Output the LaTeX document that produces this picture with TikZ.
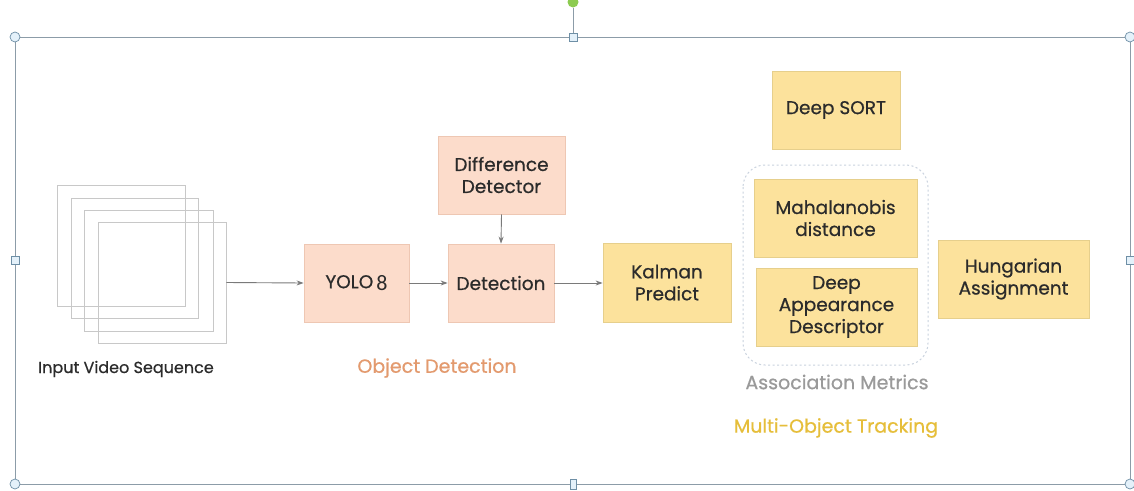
\documentclass[tikz,border=0pt]{standalone}
\usepackage{fontspec}
\setmainfont{Poppins}
\newfontfamily\medfont{Poppins}[FakeBold=0.6]
\newfontfamily\eightfont{Carlito}
\usetikzlibrary{arrows.meta}
\definecolor{peach}{HTML}{FCDCCB}
\definecolor{peachline}{HTML}{EEC7B3}
\definecolor{sand}{HTML}{FCE29C}
\definecolor{sandline}{HTML}{E6CF8C}
\definecolor{txt}{HTML}{2B2B2B}
\definecolor{arrowgray}{HTML}{7A7A7A}
\definecolor{odcol}{HTML}{E39A6E}
\definecolor{amcol}{HTML}{9A9A9A}
\definecolor{motcol}{HTML}{E6BE3A}
\definecolor{selline}{HTML}{8C9CA8}
\definecolor{handlefill}{HTML}{E4F1FA}
\definecolor{handleline}{HTML}{6E8FA6}
\definecolor{greenhandle}{HTML}{8CCB50}
\definecolor{dashcol}{HTML}{C9D2DE}
\definecolor{framecol}{HTML}{C8C8C8}
\tikzset{
  box/.style={draw, line width=0.8pt, align=center, text=txt, inner sep=2pt,
    font=\medfont\fontsize{18.5}{22}\selectfont},
  pbox/.style={box, fill=peach, draw=peachline},
  ybox/.style={box, fill=sand, draw=sandline},
  flow/.style={draw=arrowgray, line width=0.9pt, -{Stealth[length=7pt,width=5pt]}},
  vframe/.style={draw=framecol, line width=0.9pt},
  lbl/.style={font=\medfont\fontsize{19}{22}\selectfont},
  circhandle/.style={circle, draw=handleline, fill=handlefill, line width=0.7pt, minimum size=10pt, inner sep=0pt},
  sqhandle/.style={rectangle, draw=handleline, fill=handlefill, line width=0.7pt, minimum size=8pt, inner sep=0pt},
}
\begin{document}
\begin{tikzpicture}[x=1pt,y=-1pt]
\useasboundingbox (0,0) rectangle (1134,490);
\fill[white] (0,0) rectangle (1134,490);

% selection frame
\draw[selline, line width=1pt] (15,37) rectangle (1130,484);
\node[circle, fill=greenhandle, minimum size=11pt, inner sep=0pt] (rot) at (573,2) {};
\node[sqhandle] (htop) at (573,37) {};
\draw[selline, line width=1pt] (rot) -- (htop);
\node[circhandle] (c1) at (15,37) {};
\node[circhandle] (c2) at (1130,37) {};
\node[circhandle] (c3) at (15,484) {};
\node[circhandle] (c4) at (1130,484) {};
\node[sqhandle] (hl) at (15,260) {};
\node[sqhandle] (hr) at (1130,260) {};
\node[sqhandle, minimum width=6pt, minimum height=10pt] (hb) at (573,484) {};

% video frames
\node[vframe, minimum width=128pt, minimum height=121pt] (f1) at (121,245.5) {};
\node[vframe, minimum width=127pt, minimum height=120pt] (f2) at (134.5,258) {};
\node[vframe, minimum width=129pt, minimum height=121pt] (f3) at (148.5,270.5) {};
\node[vframe, minimum width=128pt, minimum height=121pt] (f4) at (162,282.5) {};
\node[lbl, text=txt, font=\medfont\fontsize{16}{20}\selectfont] (ivs) at (126,369) {Input Video Sequence};

% object detection
\node[pbox, minimum width=105pt, minimum height=78pt] (yolo) at (356.5,283) {YOLO\,{\eightfont\fontsize{22}{22}\selectfont\raisebox{-2.5pt}{8}}};
\node[pbox, minimum width=106pt, minimum height=78pt] (det) at (501,283) {Detection};
\node[pbox, minimum width=127pt, minimum height=78pt] (diff) at (501.5,175) {Difference\\Detector};
\node[lbl, text=odcol] (odl) at (437,368) {Object Detection};

% tracking
\node[ybox, minimum width=128pt, minimum height=79pt] (kal) at (667,282.5) {Kalman\\Predict};
\node[ybox, minimum width=128pt, minimum height=78pt] (ds) at (836,110) {Deep SORT};
\draw[dashcol, dash pattern=on 2pt off 2.5pt, line width=1pt, rounded corners=22pt] (743,165) rectangle (928,365);
\node[ybox, minimum width=163pt, minimum height=78pt] (mah) at (835.5,218) {Mahalanobis\\distance};
\node[ybox, minimum width=161pt, minimum height=78pt] (dad) at (836.5,307) {Deep\\Appearance\\Descriptor};
\node[ybox, minimum width=151pt, minimum height=78pt] (hun) at (1013.5,279) {Hungarian\\Assignment};
\node[lbl, text=amcol] (aml) at (837,382) {Association Metrics};
\node[lbl, text=motcol] (motl) at (836,428) {Multi-Object Tracking};

% connectors
\draw[flow] (f4.east) -- (yolo.west);
\draw[flow] (yolo.east) -- (det.west);
\draw[flow] (diff.south) -- (det.north);
\draw[flow] (det.east) -- (kal.west |- det.east);
\end{tikzpicture}
\end{document}
